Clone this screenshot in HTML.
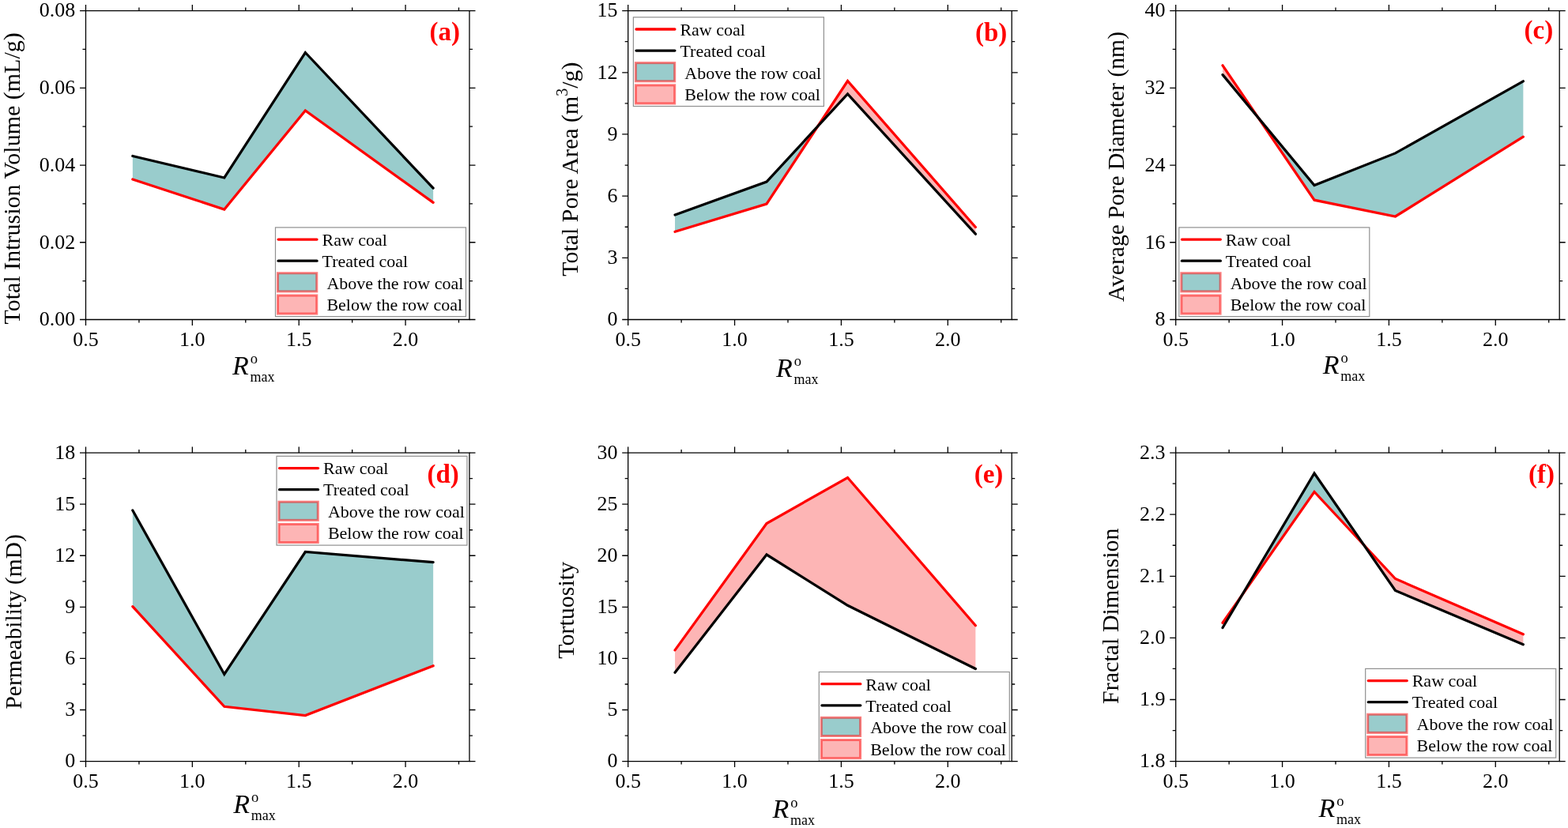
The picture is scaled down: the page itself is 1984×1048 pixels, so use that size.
<!DOCTYPE html><html><head><meta charset="utf-8"><style>html,body{margin:0;padding:0;background:#fff;}svg{display:block}text{font-family:'Liberation Serif','Times New Roman',serif;font-kerning:normal}</style></head><body>
<svg width="1984" height="1048" viewBox="0 0 1984 1048">
<rect width="1984" height="1048" fill="#fff"/>
<polygon fill="#99cccc" points="167.84,197.50 283.82,225.00 386.31,66.50 548.15,238.10 548.15,256.40 386.31,140.00 283.82,265.00 167.84,227.00"/>
<polyline fill="none" stroke="#ff0000" stroke-width="3.25" stroke-linejoin="miter" stroke-linecap="round" points="167.84,227.00 283.82,265.00 386.31,140.00 548.15,256.40"/>
<polyline fill="none" stroke="#000" stroke-width="3.25" stroke-linejoin="miter" stroke-linecap="round" points="167.84,197.50 283.82,225.00 386.31,66.50 548.15,238.10"/>
<rect x="348.50" y="287.90" width="241" height="112.7" fill="#fff" stroke="#909090" stroke-width="1.2"/>
<line x1="352.10" y1="303.10" x2="401.00" y2="303.10" stroke="#ff0000" stroke-width="3.3" stroke-linecap="round"/>
<line x1="352.10" y1="330.20" x2="401.00" y2="330.20" stroke="#000" stroke-width="3.3" stroke-linecap="round"/>
<rect x="351.50" y="345.70" width="49.3" height="23.2" fill="#99cccc" stroke="rgba(255,0,0,0.5)" stroke-width="3"/>
<rect x="351.50" y="373.90" width="49.3" height="23.2" fill="#fdb5b5" stroke="rgba(255,0,0,0.5)" stroke-width="3"/>
<g font-size="22" fill="#000">
<text x="407.50" y="310.90">Raw coal</text>
<text x="407.50" y="337.90">Treated coal</text>
<text x="413.40" y="365.60">Above the row coal</text>
<text x="413.40" y="392.90">Below the row coal</text>
</g>
<path fill="none" stroke="#000" stroke-width="1.3" stroke-linecap="square" d="M108.5,13.6H594.0V404.5H108.5Z"/>
<path fill="none" stroke="#000" stroke-width="1.3" stroke-linecap="butt" d="M108.50,404.5v7.5M108.50,13.6v-7.5M175.93,404.5v4.0M175.93,13.6v-4.0M243.36,404.5v7.5M243.36,13.6v-7.5M310.79,404.5v4.0M310.79,13.6v-4.0M378.22,404.5v7.5M378.22,13.6v-7.5M445.65,404.5v4.0M445.65,13.6v-4.0M513.08,404.5v7.5M513.08,13.6v-7.5M580.51,404.5v4.0M580.51,13.6v-4.0M108.5,404.50h-7.5M594.0,404.50h7.5M108.5,355.64h-4.0M594.0,355.64h4.0M108.5,306.77h-7.5M594.0,306.77h7.5M108.5,257.91h-4.0M594.0,257.91h4.0M108.5,209.05h-7.5M594.0,209.05h7.5M108.5,160.19h-4.0M594.0,160.19h4.0M108.5,111.33h-7.5M594.0,111.33h7.5M108.5,62.46h-4.0M594.0,62.46h4.0M108.5,13.60h-7.5M594.0,13.60h7.5"/>
<g font-size="26" fill="#000">
<text x="95.20" y="412.30" text-anchor="end">0.00</text>
<text x="95.20" y="314.57" text-anchor="end">0.02</text>
<text x="95.20" y="216.85" text-anchor="end">0.04</text>
<text x="95.20" y="119.13" text-anchor="end">0.06</text>
<text x="95.20" y="21.40" text-anchor="end">0.08</text>
<text x="108.50" y="437.50" text-anchor="middle">0.5</text>
<text x="243.36" y="437.50" text-anchor="middle">1.0</text>
<text x="378.22" y="437.50" text-anchor="middle">1.5</text>
<text x="513.08" y="437.50" text-anchor="middle">2.0</text>
</g>
<text font-size="30" transform="translate(24.6,410.5) rotate(-90)" x="0" y="0">Total Intrusion Volume (mL/g)</text>
<text x="293.90" y="474.10" font-size="34" font-style="italic">R</text>
<text x="316.70" y="460.30" font-size="18.5">o</text>
<text x="316.40" y="483.00" font-size="18">max</text>
<text x="543.60" y="51.20" font-size="33" font-weight="bold" fill="#ff0000">(a)</text>
<polygon fill="#99cccc" points="854.04,272.00 970.02,230.00 1034.51,160.16 1034.51,160.16 970.02,258.00 854.04,293.30"/>
<polygon fill="#fdb5b5" points="1034.51,160.16 1072.51,119.00 1234.35,296.20 1234.35,287.50 1072.51,102.50 1034.51,160.16"/>
<polyline fill="none" stroke="#ff0000" stroke-width="3.25" stroke-linejoin="miter" stroke-linecap="round" points="854.04,293.30 970.02,258.00 1072.51,102.50 1234.35,287.50"/>
<polyline fill="none" stroke="#000" stroke-width="3.25" stroke-linejoin="miter" stroke-linecap="round" points="854.04,272.00 970.02,230.00 1072.51,119.00 1234.35,296.20"/>
<rect x="801.40" y="21.80" width="241" height="112.7" fill="#fff" stroke="#909090" stroke-width="1.2"/>
<line x1="805.00" y1="37.00" x2="853.90" y2="37.00" stroke="#ff0000" stroke-width="3.3" stroke-linecap="round"/>
<line x1="805.00" y1="64.10" x2="853.90" y2="64.10" stroke="#000" stroke-width="3.3" stroke-linecap="round"/>
<rect x="804.40" y="79.60" width="49.3" height="23.2" fill="#99cccc" stroke="rgba(255,0,0,0.5)" stroke-width="3"/>
<rect x="804.40" y="107.80" width="49.3" height="23.2" fill="#fdb5b5" stroke="rgba(255,0,0,0.5)" stroke-width="3"/>
<g font-size="22" fill="#000">
<text x="860.40" y="44.80">Raw coal</text>
<text x="860.40" y="71.80">Treated coal</text>
<text x="866.30" y="99.50">Above the row coal</text>
<text x="866.30" y="126.80">Below the row coal</text>
</g>
<path fill="none" stroke="#000" stroke-width="1.3" stroke-linecap="square" d="M794.7,13.6H1280.2V404.5H794.7Z"/>
<path fill="none" stroke="#000" stroke-width="1.3" stroke-linecap="butt" d="M794.70,404.5v7.5M794.70,13.6v-7.5M862.13,404.5v4.0M862.13,13.6v-4.0M929.56,404.5v7.5M929.56,13.6v-7.5M996.99,404.5v4.0M996.99,13.6v-4.0M1064.42,404.5v7.5M1064.42,13.6v-7.5M1131.85,404.5v4.0M1131.85,13.6v-4.0M1199.28,404.5v7.5M1199.28,13.6v-7.5M1266.71,404.5v4.0M1266.71,13.6v-4.0M794.7,404.50h-7.5M1280.2,404.50h7.5M794.7,365.41h-4.0M1280.2,365.41h4.0M794.7,326.32h-7.5M1280.2,326.32h7.5M794.7,287.23h-4.0M1280.2,287.23h4.0M794.7,248.14h-7.5M1280.2,248.14h7.5M794.7,209.05h-4.0M1280.2,209.05h4.0M794.7,169.96h-7.5M1280.2,169.96h7.5M794.7,130.87h-4.0M1280.2,130.87h4.0M794.7,91.78h-7.5M1280.2,91.78h7.5M794.7,52.69h-4.0M1280.2,52.69h4.0M794.7,13.60h-7.5M1280.2,13.60h7.5"/>
<g font-size="26" fill="#000">
<text x="781.40" y="412.30" text-anchor="end">0</text>
<text x="781.40" y="334.12" text-anchor="end">3</text>
<text x="781.40" y="255.94" text-anchor="end">6</text>
<text x="781.40" y="177.76" text-anchor="end">9</text>
<text x="781.40" y="99.58" text-anchor="end">12</text>
<text x="781.40" y="21.40" text-anchor="end">15</text>
<text x="794.70" y="437.50" text-anchor="middle">0.5</text>
<text x="929.56" y="437.50" text-anchor="middle">1.0</text>
<text x="1064.42" y="437.50" text-anchor="middle">1.5</text>
<text x="1199.28" y="437.50" text-anchor="middle">2.0</text>
</g>
<text font-size="29.9" transform="translate(730.7,349.7) rotate(-90)" x="0" y="0">Total Pore Area (m<tspan font-size="20" dy="-12.6">3</tspan><tspan dy="12.6">/g)</tspan></text>
<text x="982.00" y="476.95" font-size="34" font-style="italic">R</text>
<text x="1004.80" y="463.15" font-size="18.5">o</text>
<text x="1004.50" y="485.85" font-size="18">max</text>
<text x="1234.00" y="52.30" font-size="33" font-weight="bold" fill="#ff0000">(b)</text>
<polygon fill="#fdb5b5" points="1547.04,94.60 1591.91,148.73 1591.91,148.73 1547.04,82.80"/>
<polygon fill="#99cccc" points="1591.91,148.73 1663.02,234.50 1765.51,193.90 1927.35,102.80 1927.35,173.10 1765.51,274.00 1663.02,253.20 1591.91,148.73"/>
<polyline fill="none" stroke="#ff0000" stroke-width="3.25" stroke-linejoin="miter" stroke-linecap="round" points="1547.04,82.80 1663.02,253.20 1765.51,274.00 1927.35,173.10"/>
<polyline fill="none" stroke="#000" stroke-width="3.25" stroke-linejoin="miter" stroke-linecap="round" points="1547.04,94.60 1663.02,234.50 1765.51,193.90 1927.35,102.80"/>
<rect x="1491.80" y="287.90" width="241" height="112.7" fill="#fff" stroke="#909090" stroke-width="1.2"/>
<line x1="1495.40" y1="303.10" x2="1544.30" y2="303.10" stroke="#ff0000" stroke-width="3.3" stroke-linecap="round"/>
<line x1="1495.40" y1="330.20" x2="1544.30" y2="330.20" stroke="#000" stroke-width="3.3" stroke-linecap="round"/>
<rect x="1494.80" y="345.70" width="49.3" height="23.2" fill="#99cccc" stroke="rgba(255,0,0,0.5)" stroke-width="3"/>
<rect x="1494.80" y="373.90" width="49.3" height="23.2" fill="#fdb5b5" stroke="rgba(255,0,0,0.5)" stroke-width="3"/>
<g font-size="22" fill="#000">
<text x="1550.80" y="310.90">Raw coal</text>
<text x="1550.80" y="337.90">Treated coal</text>
<text x="1556.70" y="365.60">Above the row coal</text>
<text x="1556.70" y="392.90">Below the row coal</text>
</g>
<path fill="none" stroke="#000" stroke-width="1.3" stroke-linecap="square" d="M1487.7,13.6H1973.2V404.5H1487.7Z"/>
<path fill="none" stroke="#000" stroke-width="1.3" stroke-linecap="butt" d="M1487.70,404.5v7.5M1487.70,13.6v-7.5M1555.13,404.5v4.0M1555.13,13.6v-4.0M1622.56,404.5v7.5M1622.56,13.6v-7.5M1689.99,404.5v4.0M1689.99,13.6v-4.0M1757.42,404.5v7.5M1757.42,13.6v-7.5M1824.85,404.5v4.0M1824.85,13.6v-4.0M1892.28,404.5v7.5M1892.28,13.6v-7.5M1959.71,404.5v4.0M1959.71,13.6v-4.0M1487.7,404.50h-7.5M1973.2,404.50h7.5M1487.7,355.64h-4.0M1973.2,355.64h4.0M1487.7,306.77h-7.5M1973.2,306.77h7.5M1487.7,257.91h-4.0M1973.2,257.91h4.0M1487.7,209.05h-7.5M1973.2,209.05h7.5M1487.7,160.19h-4.0M1973.2,160.19h4.0M1487.7,111.33h-7.5M1973.2,111.33h7.5M1487.7,62.46h-4.0M1973.2,62.46h4.0M1487.7,13.60h-7.5M1973.2,13.60h7.5"/>
<g font-size="26" fill="#000">
<text x="1474.40" y="412.30" text-anchor="end">8</text>
<text x="1474.40" y="314.57" text-anchor="end">16</text>
<text x="1474.40" y="216.85" text-anchor="end">24</text>
<text x="1474.40" y="119.13" text-anchor="end">32</text>
<text x="1474.40" y="21.40" text-anchor="end">40</text>
<text x="1487.70" y="437.50" text-anchor="middle">0.5</text>
<text x="1622.56" y="437.50" text-anchor="middle">1.0</text>
<text x="1757.42" y="437.50" text-anchor="middle">1.5</text>
<text x="1892.28" y="437.50" text-anchor="middle">2.0</text>
</g>
<text font-size="29.6" transform="translate(1421.8,382.1) rotate(-90)" x="0" y="0">Average Pore Diameter (nm)</text>
<text x="1673.70" y="473.25" font-size="34" font-style="italic">R</text>
<text x="1696.50" y="459.45" font-size="18.5">o</text>
<text x="1696.20" y="482.15" font-size="18">max</text>
<text x="1928.50" y="49.10" font-size="33" font-weight="bold" fill="#ff0000">(c)</text>
<polygon fill="#99cccc" points="167.84,646.00 283.82,853.50 386.31,698.50 548.15,711.60 548.15,842.70 386.31,905.50 283.82,894.30 167.84,767.60"/>
<polyline fill="none" stroke="#ff0000" stroke-width="3.25" stroke-linejoin="miter" stroke-linecap="round" points="167.84,767.60 283.82,894.30 386.31,905.50 548.15,842.70"/>
<polyline fill="none" stroke="#000" stroke-width="3.25" stroke-linejoin="miter" stroke-linecap="round" points="167.84,646.00 283.82,853.50 386.31,698.50 548.15,711.60"/>
<rect x="350.00" y="577.40" width="241" height="112.7" fill="#fff" stroke="#909090" stroke-width="1.2"/>
<line x1="353.60" y1="592.60" x2="402.50" y2="592.60" stroke="#ff0000" stroke-width="3.3" stroke-linecap="round"/>
<line x1="353.60" y1="619.70" x2="402.50" y2="619.70" stroke="#000" stroke-width="3.3" stroke-linecap="round"/>
<rect x="353.00" y="635.20" width="49.3" height="23.2" fill="#99cccc" stroke="rgba(255,0,0,0.5)" stroke-width="3"/>
<rect x="353.00" y="663.40" width="49.3" height="23.2" fill="#fdb5b5" stroke="rgba(255,0,0,0.5)" stroke-width="3"/>
<g font-size="22" fill="#000">
<text x="409.00" y="600.40">Raw coal</text>
<text x="409.00" y="627.40">Treated coal</text>
<text x="414.90" y="655.10">Above the row coal</text>
<text x="414.90" y="682.40">Below the row coal</text>
</g>
<path fill="none" stroke="#000" stroke-width="1.3" stroke-linecap="square" d="M108.5,573.1H594.0V963.6H108.5Z"/>
<path fill="none" stroke="#000" stroke-width="1.3" stroke-linecap="butt" d="M108.50,963.6v7.5M108.50,573.1v-7.5M175.93,963.6v4.0M175.93,573.1v-4.0M243.36,963.6v7.5M243.36,573.1v-7.5M310.79,963.6v4.0M310.79,573.1v-4.0M378.22,963.6v7.5M378.22,573.1v-7.5M445.65,963.6v4.0M445.65,573.1v-4.0M513.08,963.6v7.5M513.08,573.1v-7.5M580.51,963.6v4.0M580.51,573.1v-4.0M108.5,963.60h-7.5M594.0,963.60h7.5M108.5,931.06h-4.0M594.0,931.06h4.0M108.5,898.52h-7.5M594.0,898.52h7.5M108.5,865.98h-4.0M594.0,865.98h4.0M108.5,833.43h-7.5M594.0,833.43h7.5M108.5,800.89h-4.0M594.0,800.89h4.0M108.5,768.35h-7.5M594.0,768.35h7.5M108.5,735.81h-4.0M594.0,735.81h4.0M108.5,703.27h-7.5M594.0,703.27h7.5M108.5,670.73h-4.0M594.0,670.73h4.0M108.5,638.18h-7.5M594.0,638.18h7.5M108.5,605.64h-4.0M594.0,605.64h4.0M108.5,573.10h-7.5M594.0,573.10h7.5"/>
<g font-size="26" fill="#000">
<text x="95.20" y="971.40" text-anchor="end">0</text>
<text x="95.20" y="906.32" text-anchor="end">3</text>
<text x="95.20" y="841.23" text-anchor="end">6</text>
<text x="95.20" y="776.15" text-anchor="end">9</text>
<text x="95.20" y="711.07" text-anchor="end">12</text>
<text x="95.20" y="645.98" text-anchor="end">15</text>
<text x="95.20" y="580.90" text-anchor="end">18</text>
<text x="108.50" y="996.60" text-anchor="middle">0.5</text>
<text x="243.36" y="996.60" text-anchor="middle">1.0</text>
<text x="378.22" y="996.60" text-anchor="middle">1.5</text>
<text x="513.08" y="996.60" text-anchor="middle">2.0</text>
</g>
<text font-size="29.4" transform="translate(27.4,897.5) rotate(-90)" x="0" y="0">Permeability (mD)</text>
<text x="295.30" y="1028.75" font-size="34" font-style="italic">R</text>
<text x="318.10" y="1014.95" font-size="18.5">o</text>
<text x="317.80" y="1037.65" font-size="18">max</text>
<text x="540.50" y="611.20" font-size="33" font-weight="bold" fill="#ff0000">(d)</text>
<polygon fill="#fdb5b5" points="854.04,851.20 970.02,702.00 1072.51,766.30 1234.35,846.50 1234.35,791.70 1072.51,604.50 970.02,662.50 854.04,822.90"/>
<polyline fill="none" stroke="#ff0000" stroke-width="3.25" stroke-linejoin="miter" stroke-linecap="round" points="854.04,822.90 970.02,662.50 1072.51,604.50 1234.35,791.70"/>
<polyline fill="none" stroke="#000" stroke-width="3.25" stroke-linejoin="miter" stroke-linecap="round" points="854.04,851.20 970.02,702.00 1072.51,766.30 1234.35,846.50"/>
<rect x="1036.30" y="850.50" width="241" height="112.7" fill="#fff" stroke="#909090" stroke-width="1.2"/>
<line x1="1039.90" y1="865.70" x2="1088.80" y2="865.70" stroke="#ff0000" stroke-width="3.3" stroke-linecap="round"/>
<line x1="1039.90" y1="892.80" x2="1088.80" y2="892.80" stroke="#000" stroke-width="3.3" stroke-linecap="round"/>
<rect x="1039.30" y="908.30" width="49.3" height="23.2" fill="#99cccc" stroke="rgba(255,0,0,0.5)" stroke-width="3"/>
<rect x="1039.30" y="936.50" width="49.3" height="23.2" fill="#fdb5b5" stroke="rgba(255,0,0,0.5)" stroke-width="3"/>
<g font-size="22" fill="#000">
<text x="1095.30" y="873.50">Raw coal</text>
<text x="1095.30" y="900.50">Treated coal</text>
<text x="1101.20" y="928.20">Above the row coal</text>
<text x="1101.20" y="955.50">Below the row coal</text>
</g>
<path fill="none" stroke="#000" stroke-width="1.3" stroke-linecap="square" d="M794.7,573.1H1280.2V963.6H794.7Z"/>
<path fill="none" stroke="#000" stroke-width="1.3" stroke-linecap="butt" d="M794.70,963.6v7.5M794.70,573.1v-7.5M862.13,963.6v4.0M862.13,573.1v-4.0M929.56,963.6v7.5M929.56,573.1v-7.5M996.99,963.6v4.0M996.99,573.1v-4.0M1064.42,963.6v7.5M1064.42,573.1v-7.5M1131.85,963.6v4.0M1131.85,573.1v-4.0M1199.28,963.6v7.5M1199.28,573.1v-7.5M1266.71,963.6v4.0M1266.71,573.1v-4.0M794.7,963.60h-7.5M1280.2,963.60h7.5M794.7,931.06h-4.0M1280.2,931.06h4.0M794.7,898.52h-7.5M1280.2,898.52h7.5M794.7,865.98h-4.0M1280.2,865.98h4.0M794.7,833.43h-7.5M1280.2,833.43h7.5M794.7,800.89h-4.0M1280.2,800.89h4.0M794.7,768.35h-7.5M1280.2,768.35h7.5M794.7,735.81h-4.0M1280.2,735.81h4.0M794.7,703.27h-7.5M1280.2,703.27h7.5M794.7,670.73h-4.0M1280.2,670.73h4.0M794.7,638.18h-7.5M1280.2,638.18h7.5M794.7,605.64h-4.0M1280.2,605.64h4.0M794.7,573.10h-7.5M1280.2,573.10h7.5"/>
<g font-size="26" fill="#000">
<text x="781.40" y="971.40" text-anchor="end">0</text>
<text x="781.40" y="906.32" text-anchor="end">5</text>
<text x="781.40" y="841.23" text-anchor="end">10</text>
<text x="781.40" y="776.15" text-anchor="end">15</text>
<text x="781.40" y="711.07" text-anchor="end">20</text>
<text x="781.40" y="645.98" text-anchor="end">25</text>
<text x="781.40" y="580.90" text-anchor="end">30</text>
<text x="794.70" y="996.60" text-anchor="middle">0.5</text>
<text x="929.56" y="996.60" text-anchor="middle">1.0</text>
<text x="1064.42" y="996.60" text-anchor="middle">1.5</text>
<text x="1199.28" y="996.60" text-anchor="middle">2.0</text>
</g>
<text font-size="30" transform="translate(726.1,833.8) rotate(-90)" x="0" y="0">Tortuosity</text>
<text x="977.50" y="1035.40" font-size="34" font-style="italic">R</text>
<text x="1000.30" y="1021.60" font-size="18.5">o</text>
<text x="1000.00" y="1044.30" font-size="18">max</text>
<text x="1232.70" y="610.70" font-size="33" font-weight="bold" fill="#ff0000">(e)</text>
<polygon fill="#fdb5b5" points="1547.04,794.50 1571.25,753.69 1571.25,753.69 1547.04,788.30"/>
<polygon fill="#99cccc" points="1571.25,753.69 1663.02,599.00 1725.58,689.64 1725.58,689.64 1663.02,622.50 1571.25,753.69"/>
<polygon fill="#fdb5b5" points="1725.58,689.64 1765.51,747.50 1927.35,815.70 1927.35,802.80 1765.51,732.50 1725.58,689.64"/>
<polyline fill="none" stroke="#ff0000" stroke-width="3.25" stroke-linejoin="miter" stroke-linecap="round" points="1547.04,788.30 1663.02,622.50 1765.51,732.50 1927.35,802.80"/>
<polyline fill="none" stroke="#000" stroke-width="3.25" stroke-linejoin="miter" stroke-linecap="round" points="1547.04,794.50 1663.02,599.00 1765.51,747.50 1927.35,815.70"/>
<rect x="1727.70" y="846.40" width="241" height="112.7" fill="#fff" stroke="#909090" stroke-width="1.2"/>
<line x1="1731.30" y1="861.60" x2="1780.20" y2="861.60" stroke="#ff0000" stroke-width="3.3" stroke-linecap="round"/>
<line x1="1731.30" y1="888.70" x2="1780.20" y2="888.70" stroke="#000" stroke-width="3.3" stroke-linecap="round"/>
<rect x="1730.70" y="904.20" width="49.3" height="23.2" fill="#99cccc" stroke="rgba(255,0,0,0.5)" stroke-width="3"/>
<rect x="1730.70" y="932.40" width="49.3" height="23.2" fill="#fdb5b5" stroke="rgba(255,0,0,0.5)" stroke-width="3"/>
<g font-size="22" fill="#000">
<text x="1786.70" y="869.40">Raw coal</text>
<text x="1786.70" y="896.40">Treated coal</text>
<text x="1792.60" y="924.10">Above the row coal</text>
<text x="1792.60" y="951.40">Below the row coal</text>
</g>
<path fill="none" stroke="#000" stroke-width="1.3" stroke-linecap="square" d="M1487.7,573.1H1973.2V963.6H1487.7Z"/>
<path fill="none" stroke="#000" stroke-width="1.3" stroke-linecap="butt" d="M1487.70,963.6v7.5M1487.70,573.1v-7.5M1555.13,963.6v4.0M1555.13,573.1v-4.0M1622.56,963.6v7.5M1622.56,573.1v-7.5M1689.99,963.6v4.0M1689.99,573.1v-4.0M1757.42,963.6v7.5M1757.42,573.1v-7.5M1824.85,963.6v4.0M1824.85,573.1v-4.0M1892.28,963.6v7.5M1892.28,573.1v-7.5M1959.71,963.6v4.0M1959.71,573.1v-4.0M1487.7,963.60h-7.5M1973.2,963.60h7.5M1487.7,924.55h-4.0M1973.2,924.55h4.0M1487.7,885.50h-7.5M1973.2,885.50h7.5M1487.7,846.45h-4.0M1973.2,846.45h4.0M1487.7,807.40h-7.5M1973.2,807.40h7.5M1487.7,768.35h-4.0M1973.2,768.35h4.0M1487.7,729.30h-7.5M1973.2,729.30h7.5M1487.7,690.25h-4.0M1973.2,690.25h4.0M1487.7,651.20h-7.5M1973.2,651.20h7.5M1487.7,612.15h-4.0M1973.2,612.15h4.0M1487.7,573.10h-7.5M1973.2,573.10h7.5"/>
<g font-size="26" fill="#000">
<text x="1474.40" y="971.40" text-anchor="end">1.8</text>
<text x="1474.40" y="893.30" text-anchor="end">1.9</text>
<text x="1474.40" y="815.20" text-anchor="end">2.0</text>
<text x="1474.40" y="737.10" text-anchor="end">2.1</text>
<text x="1474.40" y="659.00" text-anchor="end">2.2</text>
<text x="1474.40" y="580.90" text-anchor="end">2.3</text>
<text x="1487.70" y="996.60" text-anchor="middle">0.5</text>
<text x="1622.56" y="996.60" text-anchor="middle">1.0</text>
<text x="1757.42" y="996.60" text-anchor="middle">1.5</text>
<text x="1892.28" y="996.60" text-anchor="middle">2.0</text>
</g>
<text font-size="30" transform="translate(1414.7,890.9) rotate(-90)" x="0" y="0">Fractal Dimension</text>
<text x="1668.40" y="1034.20" font-size="34" font-style="italic">R</text>
<text x="1691.20" y="1020.40" font-size="18.5">o</text>
<text x="1690.90" y="1043.10" font-size="18">max</text>
<text x="1934.00" y="610.70" font-size="33" font-weight="bold" fill="#ff0000">(f)</text>
</svg></body></html>
